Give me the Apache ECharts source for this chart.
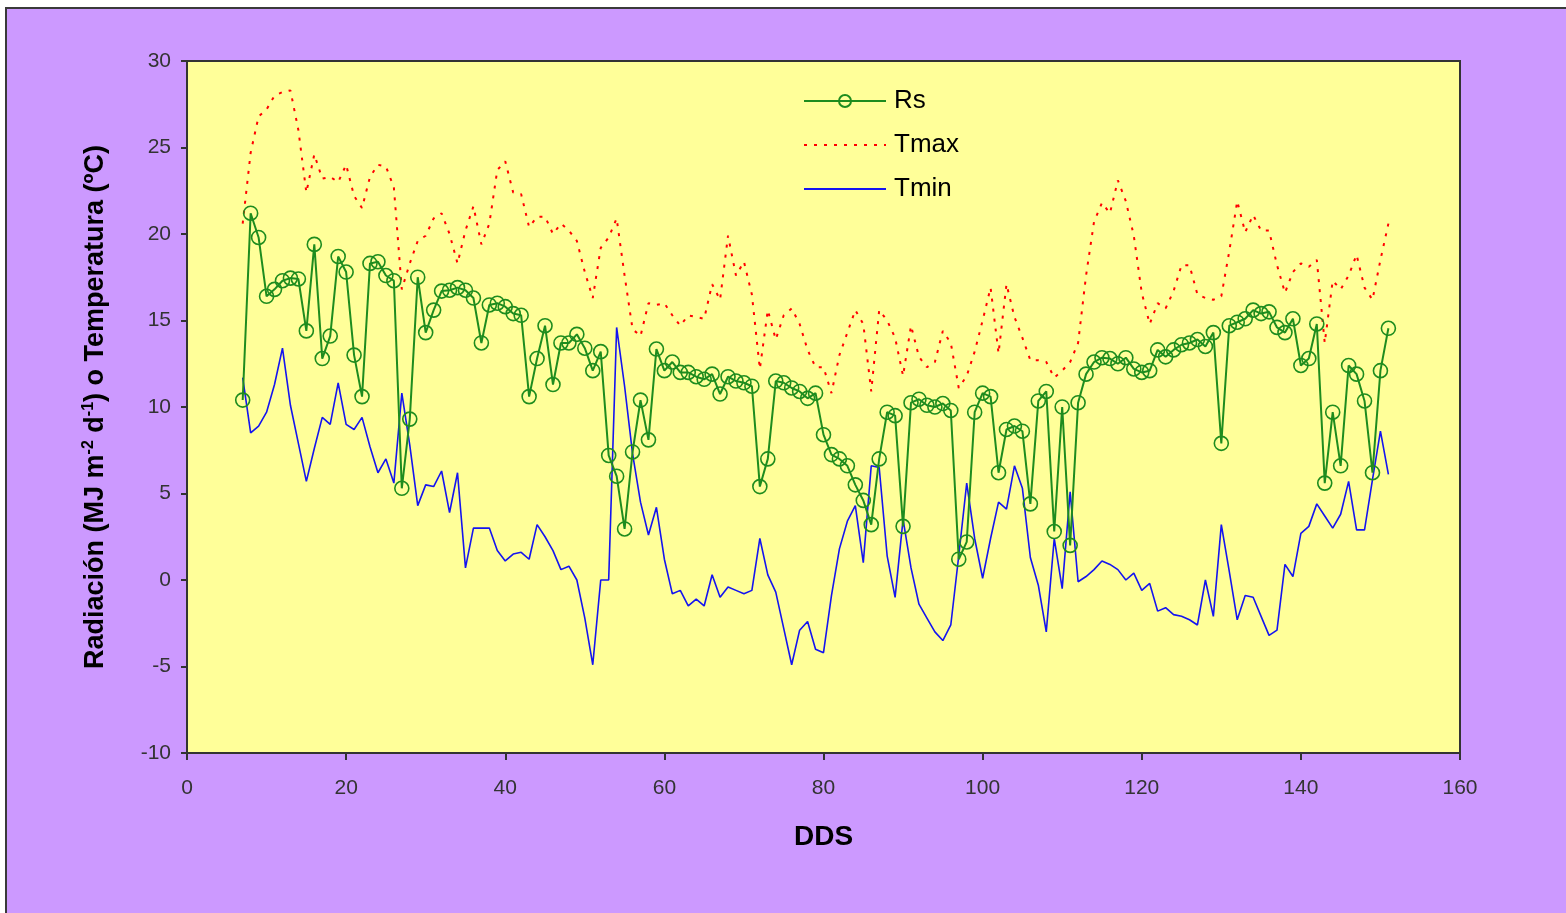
<!DOCTYPE html>
<html>
<head>
<meta charset="utf-8">
<script src="https://cdn.jsdelivr.net/npm/echarts@6/dist/echarts.min.js"></script>
<style>
  html, body { margin: 0; padding: 0; background: #fff; overflow: hidden; }
  #frame {
    position: absolute; left: 5px; top: 7px; width: 1570px; height: 920px;
    background: #CC99FF; border: 2px solid #3a3a3a;
  }
  #main { position: absolute; left: 0; top: 0; width: 1566px; height: 913px; }
</style>
</head>
<body>
<div id="frame"></div>
<div id="main"></div>
<script>
// 天数 (DDS)
const days = [
    7, 8, 9, 10, 11, 12, 13, 14, 15, 16,
    17, 18, 19, 20, 21, 22, 23, 24, 25, 26,
    27, 28, 29, 30, 31, 32, 33, 34, 35, 36,
    37, 38, 39, 40, 41, 42, 43, 44, 45, 46,
    47, 48, 49, 50, 51, 52, 53, 54, 55, 56,
    57, 58, 59, 60, 61, 62, 63, 64, 65, 66,
    67, 68, 69, 70, 71, 72, 73, 74, 75, 76,
    77, 78, 79, 80, 81, 82, 83, 84, 85, 86,
    87, 88, 89, 90, 91, 92, 93, 94, 95, 96,
    97, 98, 99, 100, 101, 102, 103, 104, 105, 106,
    107, 108, 109, 110, 111, 112, 113, 114, 115, 116,
    117, 118, 119, 120, 121, 122, 123, 124, 125, 126,
    127, 128, 129, 130, 131, 132, 133, 134, 135, 136,
    137, 138, 139, 140, 141, 142, 143, 144, 145, 146,
    147, 148, 149, 150, 151
];

// 辐射 Rs
const rs = [
    10.4, 21.2, 19.8, 16.4, 16.8, 17.3, 17.45, 17.4, 14.4, 19.4,
    12.8, 14.1, 18.7, 17.8, 13.0, 10.6, 18.3, 18.4, 17.6, 17.3,
    5.3, 9.3, 17.5, 14.3, 15.6, 16.7, 16.75, 16.9, 16.75, 16.3,
    13.7, 15.9, 16.0, 15.8, 15.4, 15.3, 10.6, 12.8, 14.7, 11.3,
    13.7, 13.7, 14.2, 13.4, 12.1, 13.2, 7.2, 6.0, 2.95, 7.4,
    10.4, 8.1, 13.35, 12.1, 12.6, 12.0, 12.0, 11.75, 11.6, 11.9,
    10.75, 11.75, 11.5, 11.4, 11.2, 5.4, 7.0, 11.5, 11.4, 11.1,
    10.9, 10.5, 10.8, 8.4, 7.25, 7.0, 6.6, 5.5, 4.6, 3.2,
    7.0, 9.7, 9.5, 3.1, 10.25, 10.45, 10.1, 10.0, 10.2, 9.8,
    1.2, 2.2, 9.7, 10.8, 10.6, 6.2, 8.7, 8.9, 8.6, 4.4,
    10.35, 10.9, 2.8, 10.0, 2.0, 10.25, 11.9, 12.6, 12.85, 12.8,
    12.5, 12.85, 12.2, 12.0, 12.1, 13.3, 12.9, 13.3, 13.6, 13.7,
    13.9, 13.5, 14.3, 7.9, 14.7, 14.9, 15.1, 15.6, 15.4, 15.5,
    14.6, 14.3, 15.1, 12.4, 12.8, 14.8, 5.6, 9.7, 6.6, 12.4,
    11.9, 10.35, 6.2, 12.1, 14.55
];

// 最高温度 Tmax
const tmax = [
    20.6, 24.7, 26.8, 27.2, 28.0, 28.2, 28.3, 26.0, 22.4, 24.6,
    23.2, 23.3, 23.0, 24.0, 22.2, 21.5, 23.3, 24.0, 23.9, 22.7,
    16.8, 18.3, 19.6, 19.9, 20.9, 21.2, 20.0, 18.3, 20.2, 21.6,
    19.4, 20.6, 23.7, 24.2, 22.4, 22.3, 20.4, 21.0, 21.0, 20.0,
    20.6, 20.2, 19.6, 17.8, 16.3, 19.2, 19.8, 20.9, 17.6, 14.5,
    14.1, 16.0, 15.9, 16.0, 15.3, 14.7, 15.3, 15.2, 15.1, 17.1,
    16.2, 19.9, 17.6, 18.4, 16.5, 12.2, 15.6, 13.9, 15.3, 15.7,
    14.8, 13.3, 12.3, 12.3, 10.8, 13.0, 14.3, 15.6, 14.8, 10.9,
    15.6, 15.0, 14.0, 11.8, 14.7, 12.9, 12.3, 12.6, 14.4, 13.7,
    11.1, 11.8, 13.2, 15.0, 16.9, 13.1, 17.1, 15.2, 14.0, 12.7,
    12.7, 12.6, 11.7, 12.1, 12.6, 13.7, 17.6, 20.7, 21.8, 21.2,
    23.1, 21.9, 19.9, 16.6, 14.8, 16.0, 15.7, 16.7, 18.2, 18.2,
    16.5, 16.3, 16.2, 16.4, 19.0, 21.9, 20.1, 21.1, 20.2, 20.2,
    18.2, 16.6, 17.8, 18.3, 18.1, 18.5, 13.7, 17.3, 16.8, 17.6,
    18.8, 16.9, 16.2, 18.5, 20.6
];

// 最低温度 Tmin
const tmin = [
    11.7, 8.5, 8.9, 9.7, 11.3, 13.4, 10.1, 7.9, 5.7, 7.6,
    9.4, 9.0, 11.4, 9.0, 8.7, 9.4, 7.7, 6.2, 7.0, 5.6,
    10.8, 7.8, 4.3, 5.5, 5.4, 6.3, 3.9, 6.2, 0.7, 3.0,
    3.0, 3.0, 1.7, 1.1, 1.5, 1.6, 1.2, 3.2, 2.5, 1.7,
    0.6, 0.8, 0.0, -2.2, -4.9, 0.0, 0.0, 14.6, 11.2, 7.3,
    4.5, 2.6, 4.2, 1.2, -0.8, -0.6, -1.5, -1.1, -1.5, 0.3,
    -1.0, -0.4, -0.6, -0.8, -0.6, 2.4, 0.3, -0.7, -2.8, -4.9,
    -2.9, -2.4, -4.0, -4.2, -0.9, 1.8, 3.4, 4.3, 1.0, 6.6,
    6.5, 1.4, -1.0, 3.5, 0.7, -1.4, -2.2, -3.0, -3.5, -2.6,
    1.4, 5.6, 2.4, 0.1, 2.4, 4.5, 4.1, 6.6, 5.3, 1.3,
    -0.3, -3.0, 2.4, -0.5, 5.1, -0.1, 0.2, 0.6, 1.1, 0.9,
    0.6, 0.0, 0.4, -0.6, -0.2, -1.8, -1.6, -2.0, -2.1, -2.3,
    -2.6, 0.0, -2.1, 3.2, 0.5, -2.3, -0.9, -1.0, -2.1, -3.2,
    -2.9, 0.9, 0.2, 2.7, 3.1, 4.4, 3.7, 3.0, 3.8, 5.7,
    2.9, 2.9, 5.8, 8.6, 6.1
];

function pairs(values) {
    return days.map(function (d, i) { return [d, values[i]]; });
}

const font = '"Liberation Sans", Arial, sans-serif';
const green = '#1E8C1E';

let chart = echarts.init(document.getElementById('main'), null, { renderer: 'canvas' });
const option = {
    animation: false,
    backgroundColor: 'transparent',
    grid: {
        left: 187, top: 61, right: 106, bottom: 160,
        show: true,
        backgroundColor: '#FFFF99',
        borderColor: '#333',
        borderWidth: 2
    },
    legend: {
        orient: 'vertical',
        left: 803,
        top: 88,
        padding: 0,
        itemWidth: 82,
        itemHeight: 15,
        itemGap: 18,
        textStyle: { fontFamily: font, fontSize: 26, color: '#000', padding: [0, 0, 0, 3] },
        data: [
            { name: 'Rs' },
            { name: 'Tmax', itemStyle: { opacity: 0 } },
            { name: 'Tmin', itemStyle: { opacity: 0 } }
        ]
    },
    xAxis: {
        type: 'value',
        min: 0, max: 160, interval: 20,
        name: 'DDS',
        nameLocation: 'middle',
        nameGap: 70,
        nameTextStyle: { fontFamily: font, fontSize: 28, fontWeight: 'bold', color: '#000' },
        axisLine: { onZero: false, lineStyle: { color: '#333', width: 2 } },
        axisTick: { show: true, length: 7, lineStyle: { color: '#333', width: 2 } },
        axisLabel: { fontFamily: font, fontSize: 21, color: '#333', margin: 25 },
        splitLine: { show: false }
    },
    yAxis: {
        type: 'value',
        min: -10, max: 30, interval: 5,
        name: '{b|Radiación (MJ m}{s|-2}{b| d}{s|-1}{b|) o Temperatura (ºC)}',
        nameLocation: 'middle',
        nameGap: 76,
        nameTextStyle: {
            rich: {
                b: { fontFamily: font, fontSize: 27, fontWeight: 'bold', color: '#000', lineHeight: 30 },
                s: { fontFamily: font, fontSize: 16, fontWeight: 'bold', color: '#000', verticalAlign: 'top', lineHeight: 30 }
            }
        },
        axisLine: { show: true, onZero: false, lineStyle: { color: '#333', width: 2 } },
        axisTick: { show: true, length: 6, lineStyle: { color: '#333', width: 2 } },
        axisLabel: { fontFamily: font, fontSize: 21, color: '#333', margin: 16 },
        splitLine: { show: false }
    },
    series: [
        {
            name: 'Rs',
            type: 'line',
            data: pairs(rs),
            symbol: 'circle',
            symbolSize: 14,
            showAllSymbol: true,
            color: green,
            itemStyle: { color: 'rgba(0,0,0,0)', borderColor: green, borderWidth: 1.6 },
            lineStyle: { color: green, width: 2 },
            z: 3
        },
        {
            name: 'Tmax',
            type: 'line',
            data: pairs(tmax),
            symbol: 'none',
            color: '#FF0000',
            lineStyle: { color: '#FF0000', width: 2, type: [3, 7] },
            z: 2
        },
        {
            name: 'Tmin',
            type: 'line',
            data: pairs(tmin),
            symbol: 'none',
            color: '#1414F0',
            lineStyle: { color: '#1414F0', width: 1.6 },
            z: 2
        }
    ]
};
chart.setOption(option);

window.addEventListener('resize', function () {
    chart.resize();
});
</script>
</body>
</html>
